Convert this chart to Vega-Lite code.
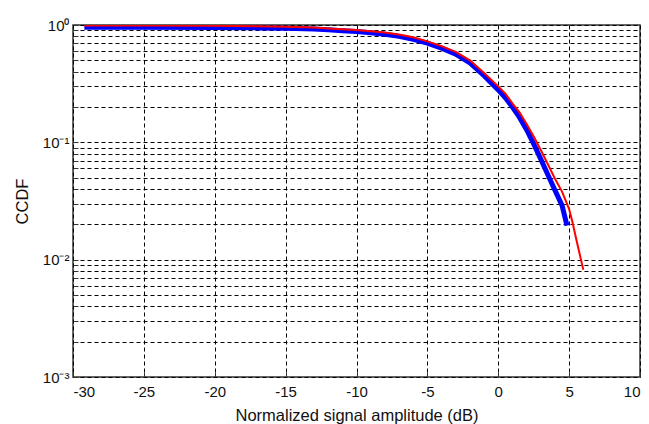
{
  "$schema": "https://vega.github.io/schema/vega-lite/v6.json",
  "width": 567,
  "height": 352,
  "autosize": {"type": "none"},
  "padding": {"left": 73, "top": 25, "right": 9, "bottom": 47},
  "background": "white",
  "config": {
    "view": {"stroke": "#333333", "strokeWidth": 1.5},
    "font": "Liberation Sans",
    "axis": {
      "labelFont": "Liberation Sans",
      "titleFont": "Liberation Sans",
      "labelFontSize": 15,
      "titleFontSize": 16.5,
      "titleFontWeight": "normal",
      "labelColor": "#111111",
      "titleColor": "#111111",
      "domain": false,
      "gridColor": "#000000",
      "gridDash": [4, 3],
      "gridOpacity": 1,
      "gridWidth": 1,
      "tickColor": "#333333",
      "tickSize": -5,
      "tickWidth": 1
    }
  },
  "datasets": {
    "curves": [
      {"series": "blue", "x": -29.2, "ccdf": 0.955},
      {"series": "blue", "x": -25, "ccdf": 0.955},
      {"series": "blue", "x": -20, "ccdf": 0.95},
      {"series": "blue", "x": -17, "ccdf": 0.945},
      {"series": "blue", "x": -15, "ccdf": 0.94},
      {"series": "blue", "x": -13, "ccdf": 0.925},
      {"series": "blue", "x": -12, "ccdf": 0.91},
      {"series": "blue", "x": -11, "ccdf": 0.895},
      {"series": "blue", "x": -10, "ccdf": 0.88},
      {"series": "blue", "x": -9, "ccdf": 0.86},
      {"series": "blue", "x": -8, "ccdf": 0.835},
      {"series": "blue", "x": -7, "ccdf": 0.8},
      {"series": "blue", "x": -6, "ccdf": 0.755},
      {"series": "blue", "x": -5, "ccdf": 0.7},
      {"series": "blue", "x": -4, "ccdf": 0.635},
      {"series": "blue", "x": -3, "ccdf": 0.565},
      {"series": "blue", "x": -2, "ccdf": 0.475},
      {"series": "blue", "x": -1, "ccdf": 0.37},
      {"series": "blue", "x": 0, "ccdf": 0.28},
      {"series": "blue", "x": 0.5, "ccdf": 0.24},
      {"series": "blue", "x": 1, "ccdf": 0.2},
      {"series": "blue", "x": 1.5, "ccdf": 0.163},
      {"series": "blue", "x": 2, "ccdf": 0.128},
      {"series": "blue", "x": 2.5, "ccdf": 0.097},
      {"series": "blue", "x": 3, "ccdf": 0.072},
      {"series": "blue", "x": 3.5, "ccdf": 0.053},
      {"series": "blue", "x": 4, "ccdf": 0.039},
      {"series": "blue", "x": 4.5, "ccdf": 0.029},
      {"series": "blue", "x": 4.85, "ccdf": 0.0195},
      {"series": "red", "x": -29.2, "ccdf": 0.99},
      {"series": "red", "x": -25, "ccdf": 0.99},
      {"series": "red", "x": -20, "ccdf": 0.985},
      {"series": "red", "x": -17, "ccdf": 0.975},
      {"series": "red", "x": -15, "ccdf": 0.965},
      {"series": "red", "x": -13, "ccdf": 0.95},
      {"series": "red", "x": -12, "ccdf": 0.935},
      {"series": "red", "x": -11, "ccdf": 0.92},
      {"series": "red", "x": -10, "ccdf": 0.905},
      {"series": "red", "x": -9, "ccdf": 0.885},
      {"series": "red", "x": -8, "ccdf": 0.865},
      {"series": "red", "x": -7, "ccdf": 0.83},
      {"series": "red", "x": -6, "ccdf": 0.785},
      {"series": "red", "x": -5, "ccdf": 0.725},
      {"series": "red", "x": -4, "ccdf": 0.66},
      {"series": "red", "x": -3, "ccdf": 0.59},
      {"series": "red", "x": -2, "ccdf": 0.5},
      {"series": "red", "x": -1, "ccdf": 0.39},
      {"series": "red", "x": 0, "ccdf": 0.3},
      {"series": "red", "x": 0.5, "ccdf": 0.26},
      {"series": "red", "x": 1, "ccdf": 0.215},
      {"series": "red", "x": 1.5, "ccdf": 0.18},
      {"series": "red", "x": 2, "ccdf": 0.143},
      {"series": "red", "x": 2.5, "ccdf": 0.112},
      {"series": "red", "x": 3, "ccdf": 0.086},
      {"series": "red", "x": 3.5, "ccdf": 0.065},
      {"series": "red", "x": 4, "ccdf": 0.049},
      {"series": "red", "x": 4.5, "ccdf": 0.038},
      {"series": "red", "x": 5, "ccdf": 0.027},
      {"series": "red", "x": 5.25, "ccdf": 0.0205},
      {"series": "red", "x": 5.5, "ccdf": 0.015},
      {"series": "red", "x": 6, "ccdf": 0.0082}
    ]
  },
  "data": {"name": "curves"},
  "layer": [
    {
      "transform": [{"filter": "datum.series == 'blue'"}],
      "mark": {"type": "line", "color": "#0000ff", "strokeWidth": 5, "clip": true},
      "encoding": {
        "x": {
          "field": "x", "type": "quantitative",
          "scale": {"domain": [-30, 10], "nice": false, "zero": false},
          "axis": {
            "values": [-30, -25, -20, -15, -10, -5, 0, 5, 10],
            "labelExpr": "replace(format(datum.value, 'd'), '\u2212', '-')",
            "title": "Normalized signal amplitude (dB)",
            "labelPadding": 12,
            "titlePadding": 8,
            "grid": true
          }
        },
        "y": {
          "field": "ccdf", "type": "quantitative",
          "scale": {"type": "log", "domain": [0.001, 1], "nice": false},
          "axis": {
            "values": [0.001, 0.002, 0.003, 0.004, 0.005, 0.006, 0.007, 0.008, 0.009, 0.01, 0.02, 0.03, 0.04, 0.05, 0.06, 0.07, 0.08, 0.09, 0.1, 0.2, 0.3, 0.4, 0.5, 0.6, 0.7, 0.8, 0.9, 1],
            "labelExpr": "datum.value == 1 ? '10⁰' : datum.value == 0.1 ? '10⁻¹' : datum.value == 0.01 ? '10⁻²' : datum.value == 0.001 ? '10⁻³' : ''",
            "title": "CCDF",
            "labelPadding": 9,
            "titlePadding": 12,
            "labelFontSize": 15,
            "grid": true
          }
        }
      }
    },
    {
      "transform": [{"filter": "datum.series == 'red'"}],
      "mark": {"type": "line", "color": "#ff0000", "strokeWidth": 2, "clip": true},
      "encoding": {
        "x": {"field": "x", "type": "quantitative"},
        "y": {"field": "ccdf", "type": "quantitative"}
      }
    }
  ]
}
